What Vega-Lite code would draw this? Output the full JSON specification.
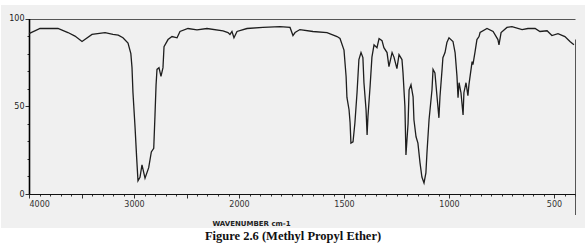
{
  "$schema": "https://vega.github.io/schema/vega-lite/v6.json",
  "width": 584,
  "height": 223,
  "autosize": "none",
  "padding": {"left": 1, "top": 5, "right": 3, "bottom": 16},
  "background": "white",
  "view": {"fill": "#f0f0f0", "stroke": null},
  "title": {
    "text": "Figure 2.6 (Methyl Propyl Ether)",
    "orient": "bottom",
    "anchor": "middle",
    "font": "Liberation Serif",
    "fontSize": 12.5,
    "fontWeight": "bold",
    "color": "#111",
    "offset": 2
  },
  "data": {
    "values": [
      {"wn": 4000, "t": 91.4}, {"wn": 3895, "t": 94.3}, {"wn": 3724, "t": 94.3}, {"wn": 3629, "t": 92},
      {"wn": 3562, "t": 90}, {"wn": 3495, "t": 86.9}, {"wn": 3400, "t": 90.9}, {"wn": 3276, "t": 92},
      {"wn": 3200, "t": 91}, {"wn": 3150, "t": 90.5}, {"wn": 3105, "t": 89}, {"wn": 3057, "t": 86},
      {"wn": 3030, "t": 80}, {"wn": 3019, "t": 72}, {"wn": 3010, "t": 58}, {"wn": 2990, "t": 38},
      {"wn": 2975, "t": 21}, {"wn": 2962, "t": 7.5}, {"wn": 2943, "t": 9.5}, {"wn": 2924, "t": 16.6},
      {"wn": 2895, "t": 9}, {"wn": 2860, "t": 15}, {"wn": 2835, "t": 24}, {"wn": 2812, "t": 26},
      {"wn": 2800, "t": 45}, {"wn": 2790, "t": 62}, {"wn": 2781, "t": 71}, {"wn": 2762, "t": 72},
      {"wn": 2743, "t": 67}, {"wn": 2724, "t": 72}, {"wn": 2714, "t": 84}, {"wn": 2676, "t": 88},
      {"wn": 2638, "t": 89.7}, {"wn": 2590, "t": 89}, {"wn": 2562, "t": 92.6}, {"wn": 2486, "t": 94.3},
      {"wn": 2400, "t": 93.5}, {"wn": 2305, "t": 94.3}, {"wn": 2152, "t": 93}, {"wn": 2105, "t": 92},
      {"wn": 2086, "t": 90.9}, {"wn": 2067, "t": 92.6}, {"wn": 2048, "t": 89}, {"wn": 2019, "t": 92.6},
      {"wn": 1962, "t": 94.3}, {"wn": 1886, "t": 94.9}, {"wn": 1805, "t": 95.4}, {"wn": 1757, "t": 94.9},
      {"wn": 1743, "t": 90.3}, {"wn": 1733, "t": 92}, {"wn": 1710, "t": 93.7}, {"wn": 1648, "t": 92.6},
      {"wn": 1581, "t": 92}, {"wn": 1533, "t": 89.7}, {"wn": 1519, "t": 88.6}, {"wn": 1500, "t": 82},
      {"wn": 1490, "t": 67}, {"wn": 1486, "t": 55}, {"wn": 1476, "t": 48}, {"wn": 1471, "t": 40.6},
      {"wn": 1467, "t": 29}, {"wn": 1457, "t": 29.7}, {"wn": 1448, "t": 40.6}, {"wn": 1438, "t": 57.7},
      {"wn": 1429, "t": 76.6}, {"wn": 1419, "t": 80.6}, {"wn": 1410, "t": 77.7}, {"wn": 1405, "t": 63.4},
      {"wn": 1395, "t": 48}, {"wn": 1390, "t": 33.7}, {"wn": 1386, "t": 44}, {"wn": 1376, "t": 61},
      {"wn": 1367, "t": 78}, {"wn": 1357, "t": 85}, {"wn": 1343, "t": 83.4}, {"wn": 1333, "t": 88.6},
      {"wn": 1319, "t": 87.4}, {"wn": 1310, "t": 83.4}, {"wn": 1295, "t": 80.6}, {"wn": 1286, "t": 72.6},
      {"wn": 1271, "t": 80.6}, {"wn": 1262, "t": 78}, {"wn": 1248, "t": 71.4}, {"wn": 1238, "t": 79.4},
      {"wn": 1224, "t": 76.6}, {"wn": 1219, "t": 69}, {"wn": 1210, "t": 50}, {"wn": 1205, "t": 22.3},
      {"wn": 1195, "t": 40}, {"wn": 1190, "t": 59.4}, {"wn": 1181, "t": 62.3}, {"wn": 1171, "t": 55.4},
      {"wn": 1167, "t": 42.3}, {"wn": 1157, "t": 32.6}, {"wn": 1148, "t": 29}, {"wn": 1138, "t": 17.7},
      {"wn": 1129, "t": 9.7}, {"wn": 1119, "t": 6.3}, {"wn": 1110, "t": 12}, {"wn": 1105, "t": 23.4},
      {"wn": 1095, "t": 42.3}, {"wn": 1081, "t": 59.4}, {"wn": 1076, "t": 71}, {"wn": 1067, "t": 69},
      {"wn": 1057, "t": 55.4}, {"wn": 1048, "t": 43.4}, {"wn": 1043, "t": 55.4}, {"wn": 1033, "t": 71},
      {"wn": 1029, "t": 77.7}, {"wn": 1019, "t": 80.6}, {"wn": 1010, "t": 86.3}, {"wn": 1000, "t": 89},
      {"wn": 981, "t": 86.9}, {"wn": 971, "t": 80.6}, {"wn": 962, "t": 67}, {"wn": 957, "t": 54.9},
      {"wn": 952, "t": 63.4}, {"wn": 943, "t": 57.7}, {"wn": 933, "t": 45}, {"wn": 929, "t": 57.7},
      {"wn": 919, "t": 63.4}, {"wn": 910, "t": 56}, {"wn": 905, "t": 62.3}, {"wn": 890, "t": 75.4},
      {"wn": 886, "t": 73.7}, {"wn": 876, "t": 81}, {"wn": 867, "t": 88}, {"wn": 857, "t": 89.7},
      {"wn": 852, "t": 92}, {"wn": 819, "t": 94.3}, {"wn": 790, "t": 92.6}, {"wn": 767, "t": 88},
      {"wn": 762, "t": 85}, {"wn": 752, "t": 92}, {"wn": 724, "t": 94.9}, {"wn": 700, "t": 95.4},
      {"wn": 652, "t": 93.7}, {"wn": 624, "t": 94.3}, {"wn": 590, "t": 94.3}, {"wn": 567, "t": 92.6},
      {"wn": 533, "t": 93}, {"wn": 510, "t": 90.3}, {"wn": 481, "t": 91.4}, {"wn": 448, "t": 89.7},
      {"wn": 424, "t": 86.9}, {"wn": 405, "t": 85}
    ]
  },
  "mark": {"type": "line", "color": "#1e1e1e", "strokeWidth": 1.3, "interpolate": "linear"},
  "encoding": {
    "x": {
      "field": "wn",
      "type": "quantitative",
      "scale": {"domain": [4000, 2000, 400], "range": [28, 238, 574], "nice": false, "zero": false},
      "axis": {
        "values": [4000, 3900, 3800, 3700, 3600, 3500, 3400, 3300, 3200, 3100, 3000, 2900, 2800, 2700, 2600, 2500, 2400, 2300, 2200, 2100, 2000, 1950, 1900, 1850, 1800, 1750, 1700, 1650, 1600, 1550, 1500, 1450, 1400, 1350, 1300, 1250, 1200, 1150, 1100, 1050, 1000, 950, 900, 850, 800, 750, 700, 650, 600, 550, 500, 450, 400],
        "format": "d",
        "labelExpr": "indexof([4000, 3000, 2000, 1500, 1000, 500], datum.value) >= 0 ? datum.label : ''",
        "labelOverlap": false,
        "labelFont": "DejaVu Sans",
        "labelFontSize": 8,
        "labelColor": "#333",
        "labelPadding": 2,
        "tickSize": {"condition": {"test": "datum.value % 500 === 0", "value": 4}, "value": 2},
        "tickColor": "#333",
        "domainColor": "#111",
        "domainWidth": 1.2,
        "offset": -34,
        "grid": true,
        "gridColor": "#555",
        "gridWidth": 1,
        "gridOpacity": {"condition": {"test": "datum.value === 400", "value": 1}, "value": 0},
        "title": "WAVENUMBER cm-1",
        "titleFont": "DejaVu Sans",
        "titleFontSize": 7,
        "titleFontWeight": "bold",
        "titleColor": "#222",
        "titleX": 250,
        "titleY": 29,
        "titleBaseline": "middle"
      }
    },
    "y": {
      "field": "t",
      "type": "quantitative",
      "scale": {"domain": [0, 100], "range": [189, 13.5], "nice": false, "zero": false},
      "axis": {
        "values": [0, 10, 20, 30, 40, 50, 60, 70, 80, 90, 100],
        "labelExpr": "datum.value % 50 === 0 ? datum.label : ''",
        "labelOverlap": false,
        "labelFont": "DejaVu Sans",
        "labelFontSize": 8,
        "labelColor": "#222",
        "labelPadding": 1,
        "tickSize": {"condition": {"test": "datum.value % 50 === 0", "value": 4}, "value": 2},
        "tickColor": "#333",
        "domainColor": "#000",
        "domainWidth": 1.6,
        "offset": -28,
        "grid": true,
        "gridColor": "#555",
        "gridWidth": 1,
        "gridOpacity": {"condition": {"test": "datum.value === 100", "value": 1}, "value": 0},
        "title": null
      }
    }
  }
}
